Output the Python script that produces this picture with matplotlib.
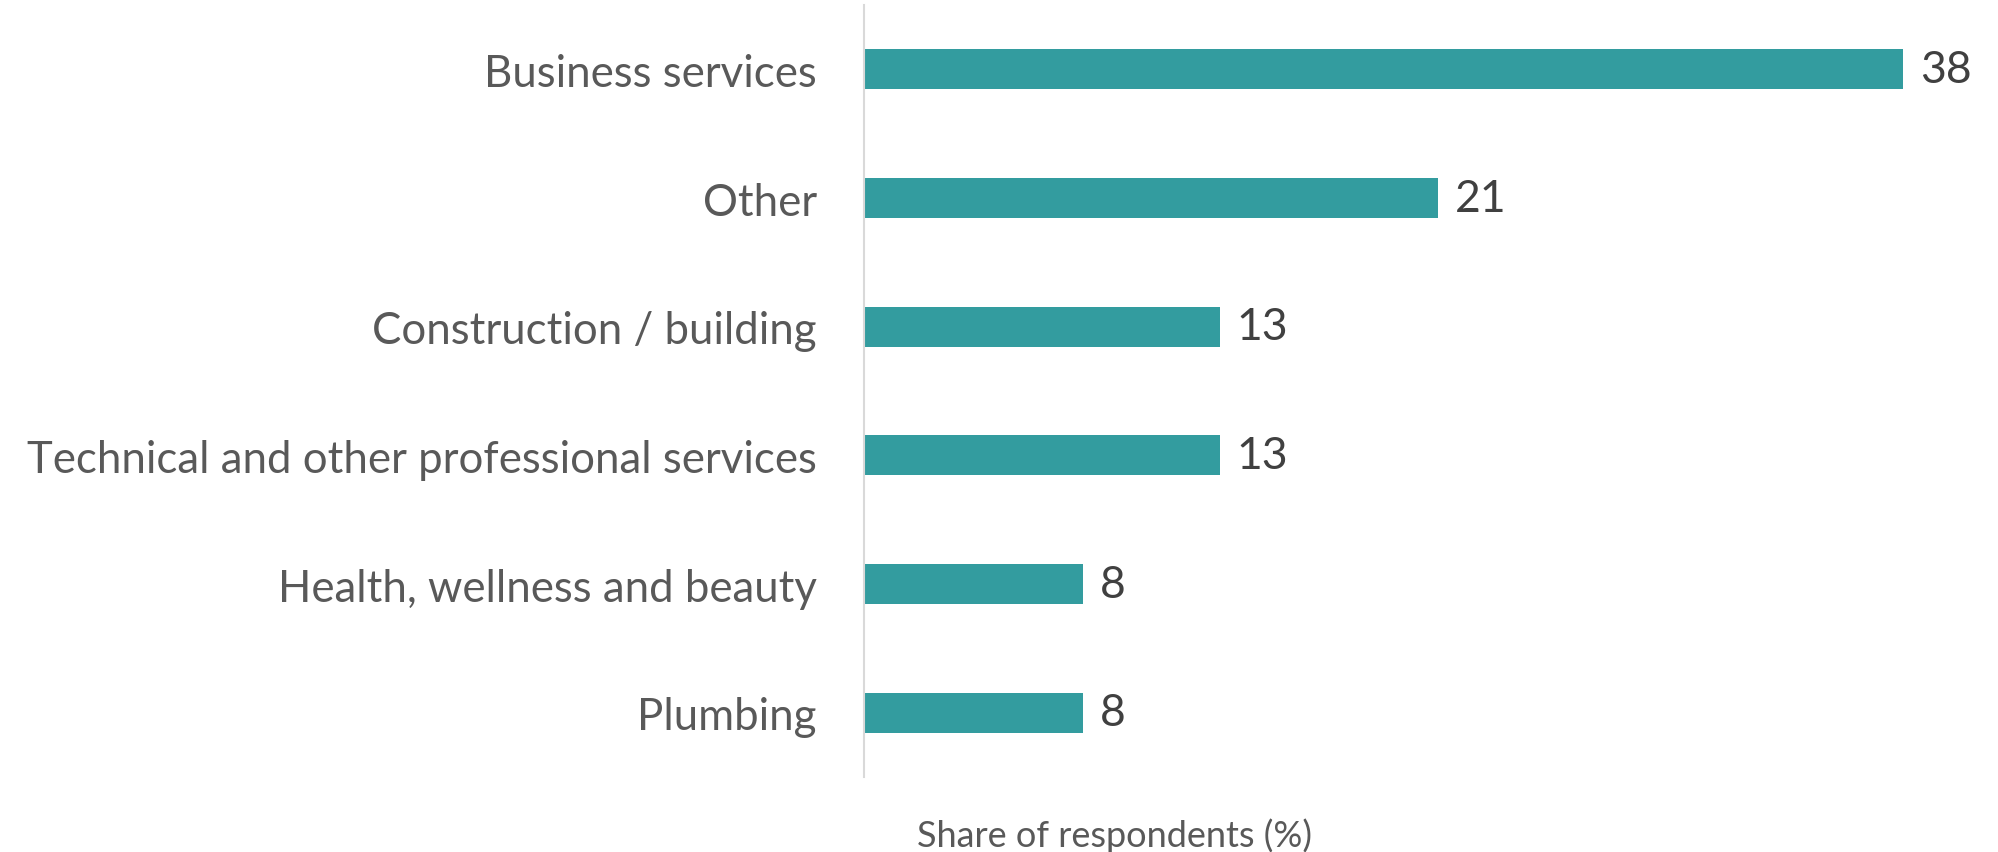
import matplotlib.pyplot as plt

categories = [
    "Business services",
    "Other",
    "Construction / building",
    "Technical and other professional services",
    "Health, wellness and beauty",
    "Plumbing",
]
shares = [38, 21, 13, 13, 8, 8]

bar_color = "#339c9f"
label_grey = "#595959"
value_grey = "#404040"

plt.rcParams["font.family"] = ["Lato", "DejaVu Sans"]

fig = plt.figure(figsize=(19.99, 8.53), dpi=100)
ax = fig.add_axes([0.4322, 0.0879, 0.5473, 0.905])

# first category on top
pos = list(range(len(categories)))[::-1]
bars = ax.barh(pos, shares, height=0.31, color=bar_color)

ax.set_ylim(-0.5, len(categories) - 0.5)
ax.set_xlim(0, 40)
ax.set_yticks(pos)
ax.set_yticklabels(categories, fontsize=31.5, color=label_grey)
ax.tick_params(axis="y", length=0, pad=34)
ax.set_xticks([])

for side in ["top", "right", "bottom"]:
    ax.spines[side].set_visible(False)
ax.spines["left"].set_color("#d9d9d9")
ax.spines["left"].set_linewidth(1.5)

ax.bar_label(bars, labels=[str(v) for v in shares], padding=12,
             fontsize=32, color=value_grey)

ax.set_xlabel("Share of respondents (%)", fontsize=26, color=label_grey)
ax.xaxis.set_label_coords(0.229, -0.075)
ax.xaxis.label.set_verticalalignment("center")

fig.savefig("out.png", dpi=100)
plt.close()
